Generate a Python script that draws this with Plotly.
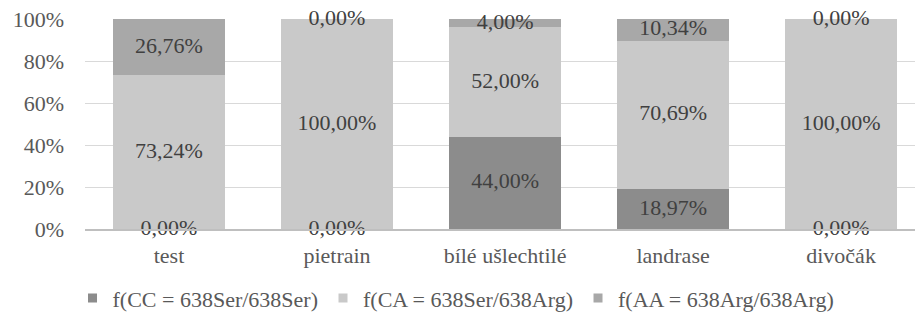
import plotly.graph_objects as go

# Genotype frequencies (%) per breed group
categories = ["test", "pietrain", "bílé ušlechtilé", "landrase", "divočák"]
cc_values = [0.00, 0.00, 44.00, 18.97, 0.00]
ca_values = [73.24, 100.00, 52.00, 70.69, 100.00]
aa_values = [26.76, 0.00, 4.00, 10.34, 0.00]
series_names = [
    "f(CC = 638Ser/638Ser)",
    "f(CA = 638Ser/638Arg)",
    "f(AA = 638Arg/638Arg)",
]
series_values = [cc_values, ca_values, aa_values]
series_colors = ["#8c8c8c", "#c9c9c9", "#a8a8a8"]
y_ticks = [0, 20, 40, 60, 80, 100]
y_ticktext = [f"{v}%" for v in y_ticks]

FONT = "Liberation Serif"
SIZE = 22

fig = go.Figure()

# stacked bars
for name, vals, color in zip(series_names, series_values, series_colors):
    fig.add_trace(go.Bar(
        x=categories, y=vals, name=name, marker=dict(color=color, line=dict(width=0)),
        showlegend=False, hoverinfo="skip",
    ))

# value labels at the middle of each segment (zero segments sit on the edge)
lab_x, lab_y, lab_t = [], [], []
for i, cat in enumerate(categories):
    base = 0.0
    for vals in series_values:
        v = vals[i]
        lab_x.append(cat)
        lab_y.append(base + v / 2)
        lab_t.append(f"{v:.2f}".replace(".", ",") + "%")
        base += v
fig.add_trace(go.Scatter(
    x=lab_x, y=lab_y, text=lab_t, mode="text",
    textfont=dict(family=FONT, size=SIZE, color="#404040"),
    showlegend=False, hoverinfo="skip", cliponaxis=False,
))

# legend entries with small square swatches
for name, color in zip(series_names, series_colors):
    fig.add_trace(go.Scatter(
        x=[None], y=[None], mode="markers", name=name,
        marker=dict(symbol="square", size=9, color=color),
    ))

fig.update_layout(
    width=915, height=325,
    margin=dict(l=85, r=0, t=19, b=96),
    barmode="stack", bargap=1 - 112 / 168,
    plot_bgcolor="white", paper_bgcolor="white",
    font=dict(family=FONT, size=SIZE, color="#595959"),
    legend=dict(
        orientation="h", x=0.447, xanchor="center", y=-0.33, yanchor="middle",
        traceorder="normal", itemwidth=30,
    ),
    xaxis=dict(
        range=[-0.5, 4.44], showgrid=False, showline=True,
        linecolor="#bfbfbf", linewidth=1.5, ticks="",
        ticklabelstandoff=6,
    ),
    yaxis=dict(
        range=[0, 100], tickvals=y_ticks, ticktext=y_ticktext,
        showgrid=True, gridcolor="#d9d9d9", gridwidth=1.2,
        zeroline=False, showline=False, ticks="",
        ticklabelstandoff=20,
    ),
)

fig.write_html("out.html")
